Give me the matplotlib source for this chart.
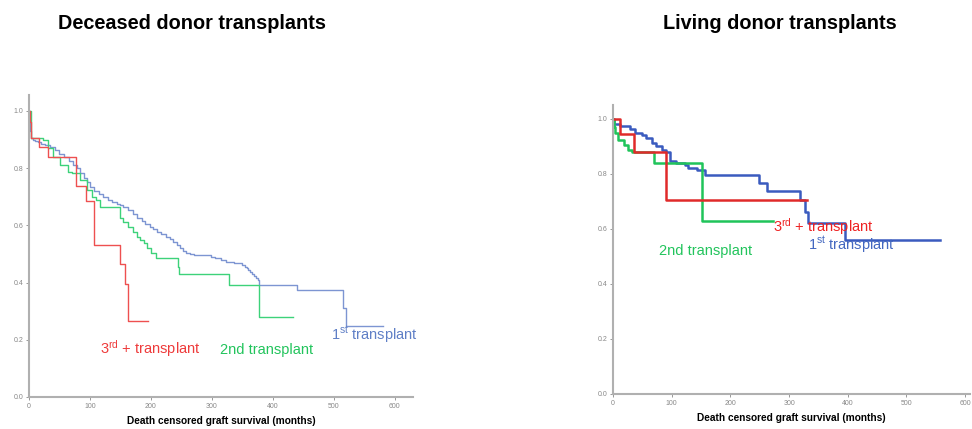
import matplotlib.pyplot as plt

plt.rcParams['font.family'] = ['Liberation Sans', 'DejaVu Sans']
plt.rcParams['mathtext.fontset'] = 'custom'
plt.rcParams['mathtext.rm'] = 'Liberation Sans'
plt.rcParams['mathtext.it'] = 'Liberation Sans'

# deceased donor curves (months, survival)
dec_1st_t = [0, 1, 3, 6, 10, 15, 20, 27, 34, 42, 50, 58, 65, 72, 78, 84, 90, 95, 100, 107, 115, 122, 130, 137, 145,
             150, 155, 162, 170, 177, 185, 191, 198, 204, 210, 217, 225, 231, 237, 243, 248, 253, 258, 264, 270, 280,
             291, 298, 305, 315, 324, 330, 336, 341, 346, 350, 354, 357, 360, 363, 366, 369, 373, 376, 378, 439, 515,
             520, 581]
dec_1st_s = [1.0, 0.93, 0.905, 0.9, 0.895, 0.89, 0.885, 0.88, 0.875, 0.862, 0.85, 0.838, 0.825, 0.812, 0.80, 0.782,
             0.765, 0.75, 0.735, 0.722, 0.71, 0.70, 0.69, 0.682, 0.675, 0.67, 0.666, 0.653, 0.64, 0.627, 0.615, 0.605,
             0.596, 0.587, 0.578, 0.569, 0.56, 0.551, 0.543, 0.531, 0.52, 0.511, 0.502, 0.5, 0.497, 0.497, 0.497,
             0.491, 0.485, 0.479, 0.473, 0.471, 0.47, 0.468, 0.467, 0.461, 0.455, 0.45, 0.444, 0.437, 0.43, 0.422,
             0.415, 0.408, 0.392, 0.374, 0.31, 0.249, 0.249]

dec_2nd_t = [0, 3, 23, 32, 40, 51, 64, 70, 84, 95, 103, 110, 116, 127, 149, 155, 163, 171, 177, 182, 188, 193, 201,
             209, 245, 247, 329, 378, 433]
dec_2nd_s = [1.0, 0.905, 0.90, 0.87, 0.84, 0.81, 0.788, 0.782, 0.759, 0.724, 0.70, 0.689, 0.663, 0.663, 0.625,
             0.613, 0.596, 0.578, 0.56, 0.548, 0.537, 0.52, 0.502, 0.485, 0.456, 0.429, 0.392, 0.281, 0.281]

dec_3rd_t = [0, 1, 3, 17, 32, 77, 93, 107, 149, 157, 163, 196]
dec_3rd_s = [1.0, 0.96, 0.905, 0.875, 0.84, 0.739, 0.686, 0.53, 0.464, 0.395, 0.266, 0.266]

# living donor curves
liv_1st_t = [0, 2, 12, 29, 37, 49, 57, 66, 74, 83, 91, 97, 108, 123, 128, 143, 157, 248, 262, 319, 327, 333, 395, 557]
liv_1st_s = [1.0, 0.982, 0.975, 0.962, 0.95, 0.94, 0.93, 0.911, 0.90, 0.885, 0.878, 0.845, 0.839, 0.833, 0.82,
             0.812, 0.796, 0.768, 0.736, 0.705, 0.66, 0.62, 0.558, 0.558]

liv_2nd_t = [0, 1, 4, 9, 18, 26, 32, 69, 151, 273]
liv_2nd_s = [1.0, 0.97, 0.948, 0.924, 0.905, 0.887, 0.878, 0.841, 0.63, 0.63]

liv_3rd_t = [0, 12, 35, 91, 330]
liv_3rd_s = [1.0, 0.945, 0.879, 0.703, 0.703]

fig = plt.figure(figsize=(9.72, 4.29), dpi=100)


def style_axes(ax, xmax, ymax, lw):
    ax.set_xlim(0, xmax)
    ax.set_ylim(0, ymax)
    ax.set_xticks([0, 100, 200, 300, 400, 500, 600])
    ax.set_yticks([0.0, 0.2, 0.4, 0.6, 0.8, 1.0])
    ax.set_yticklabels(['0.0', '0.2', '0.4', '0.6', '0.8', '1.0'])
    for s in ['top', 'right']:
        ax.spines[s].set_visible(False)
    for s in ['left', 'bottom']:
        ax.spines[s].set_color('#b0b0b0')
        ax.spines[s].set_linewidth(lw)
    ax.tick_params(labelsize=5, colors='#888888', length=2.5, width=0.6, pad=1.5)
    ax.set_xlabel('Death censored graft survival (months)', fontsize=7.3, fontweight='bold', labelpad=5)


# left panel
ax1 = fig.add_axes([0.0298, 0.0746, 0.395, 0.704])
ax1.step(dec_1st_t, dec_1st_s, where='post', color='#7d95d2', lw=1.0)
ax1.step(dec_2nd_t, dec_2nd_s, where='post', color='#3dd27a', lw=1.0)
ax1.step(dec_3rd_t, dec_3rd_s, where='post', color='#ee5050', lw=1.0)
style_axes(ax1, 630, 1.056, 1.5)
ax1.text(116, 0.15, r'3$^{\rm rd}$ + transplant', color='#ee3b3b', fontsize=10.5)
ax1.text(313, 0.15, '2nd transplant', color='#22c45c', fontsize=10.5)
ax1.text(495, 0.2, r'1$^{\rm st}$ transplant', color='#5f7fc6', fontsize=10.5)
fig.text(0.198, 0.945, 'Deceased donor transplants', fontsize=14.3, fontweight='bold', ha='center', va='center')

# right panel
ax2 = fig.add_axes([0.6307, 0.0816, 0.367, 0.6737])
ax2.step(liv_1st_t, liv_1st_s, where='post', color='#3a5bbf', lw=1.8)
ax2.step(liv_2nd_t, liv_2nd_s, where='post', color='#20c45a', lw=1.8)
ax2.step(liv_3rd_t, liv_3rd_s, where='post', color='#e02a2a', lw=1.8)
style_axes(ax2, 608, 1.05, 1.5)
ax2.text(273, 0.59, r'3$^{\rm rd}$ + transplant', color='#ee2222', fontsize=10.5)
ax2.text(78, 0.505, '2nd transplant', color='#22c45c', fontsize=10.5)
ax2.text(332, 0.525, r'1$^{\rm st}$ transplant', color='#4468c0', fontsize=10.5)
fig.text(0.8025, 0.945, 'Living donor transplants', fontsize=14.3, fontweight='bold', ha='center', va='center')

fig.savefig('out.png', dpi=100)
